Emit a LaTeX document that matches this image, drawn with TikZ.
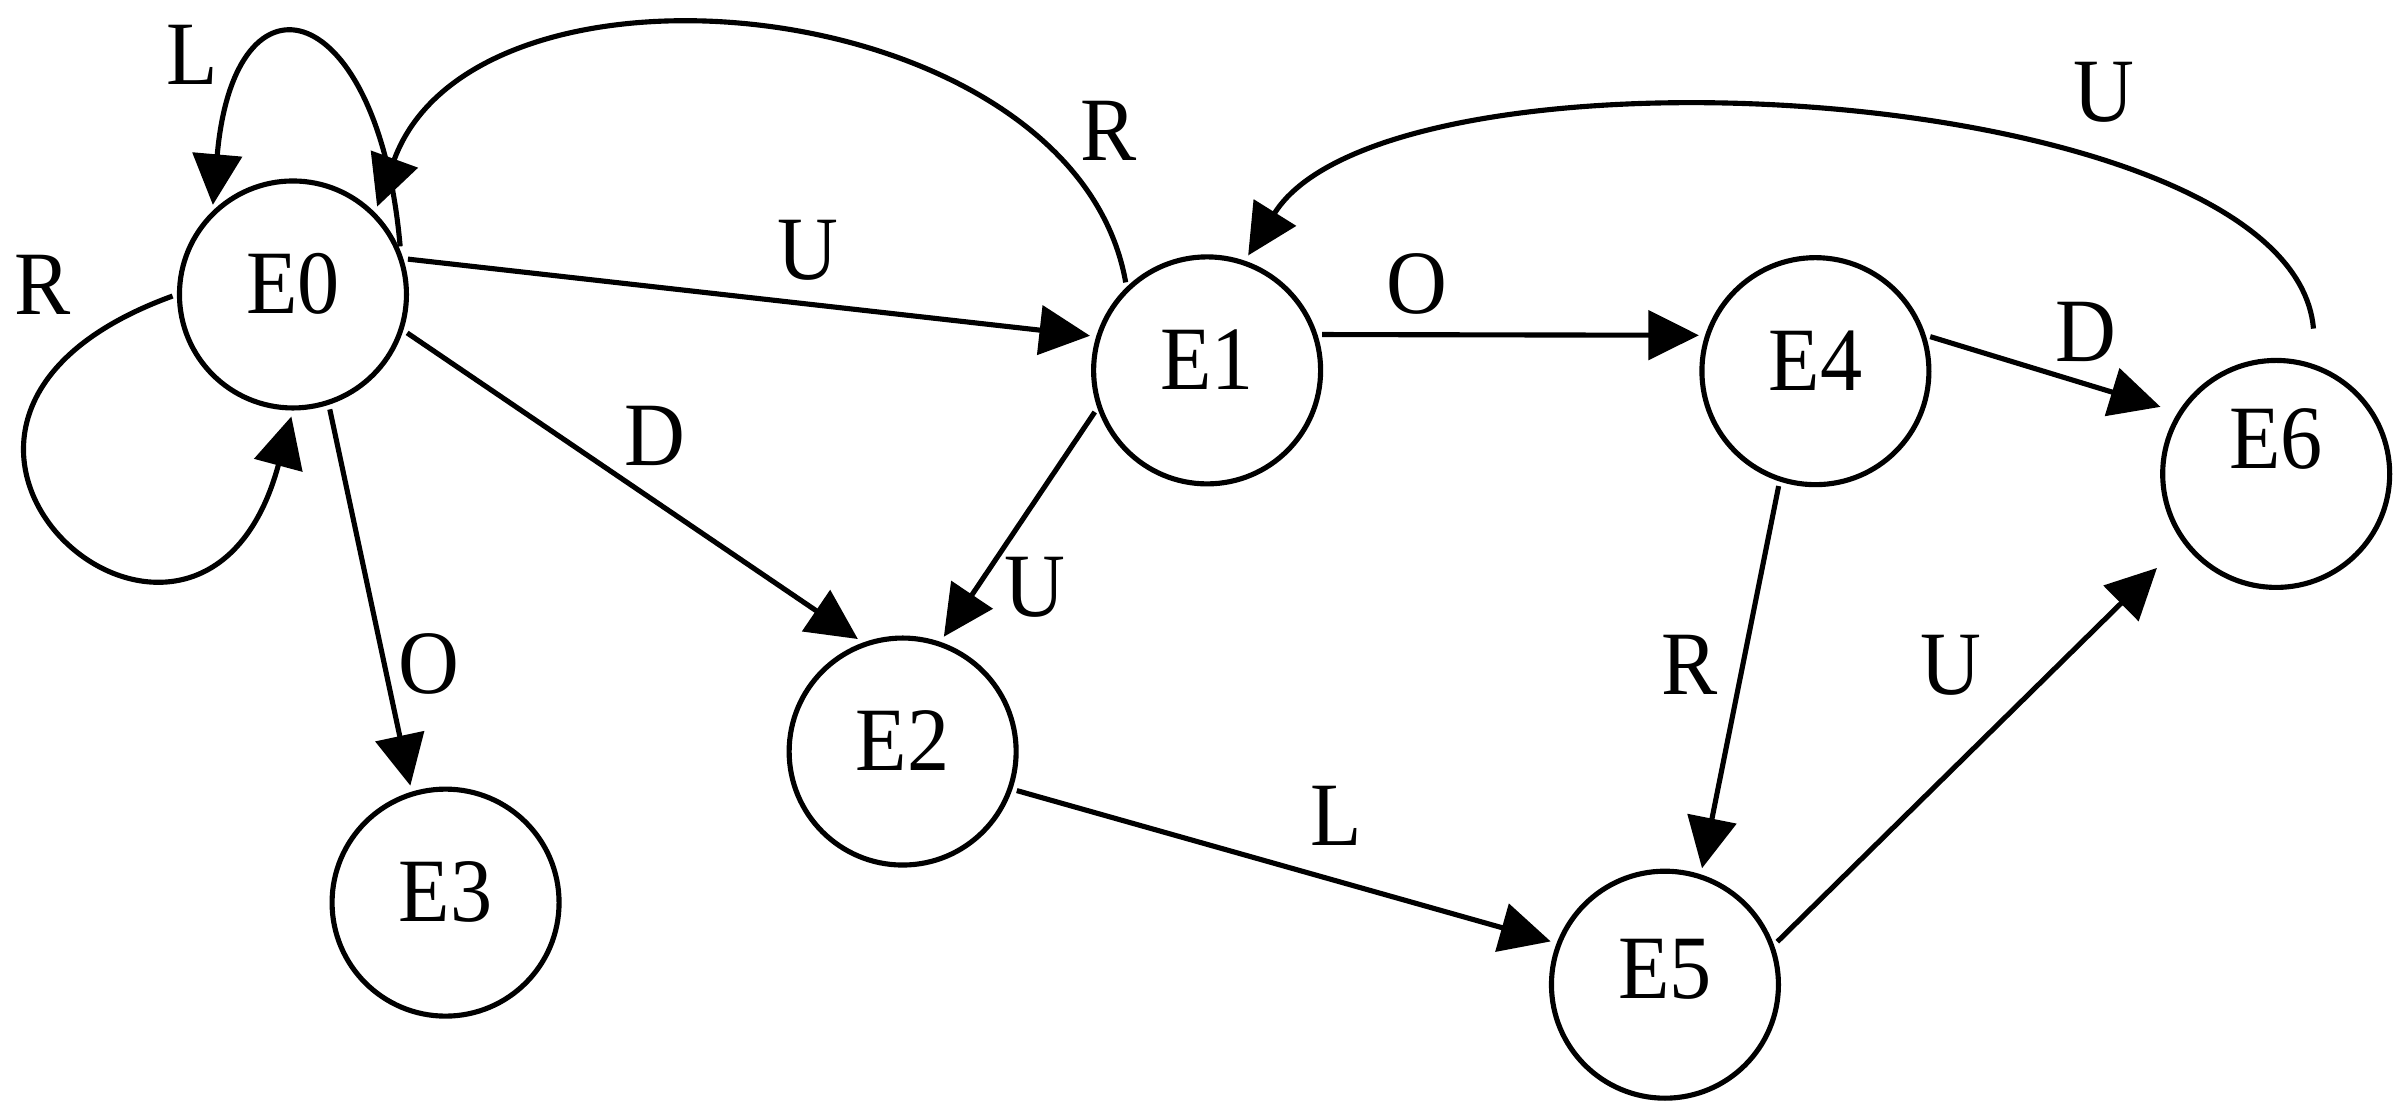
\documentclass[tikz,border=0pt]{standalone}
\usepackage{fontspec}
\setmainfont{Liberation Serif}[FakeStretch=0.93]
\usetikzlibrary{arrows.meta}

\begin{document}
\begin{tikzpicture}[
		every node/.style={font=\fontsize{16.8}{20}\selectfont},
		state/.style={draw, circle, line width=0.95pt, minimum size=1.48cm, inner sep=0pt, text depth=0.14cm},
		lbl/.style={inner sep=0pt},
		trans/.style={-{Triangle[length=0.33cm, width=0.32cm]}, line width=0.95pt, shorten >=0.04cm, shorten <=0.03cm}]
		\useasboundingbox (0,0) rectangle (15.68,-7.23);
		% states
		\node[state] (E0) at (1.91,-1.92) {E0};
		\node[state] (E1) at (7.87,-2.415) {E1};
		\node[state] (E2) at (5.885,-4.90) {E2};
		\node[state] (E3) at (2.905,-5.885) {E3};
		\node[state] (E4) at (11.836,-2.42) {E4};
		\node[state, text depth=0.21cm] (E5) at (10.855,-6.42) {E5};
		\node[state, text depth=0.46cm, outer sep=0.21cm] (E6) at (14.84,-3.09) {E6};
		% straight transitions
		\draw[trans] (E0.18) -- (E1.163);
		\draw[trans] (E0.-18) -- (E2.110);
		\draw[trans] (E0.-72) -- (E3.107);
		\draw[trans] (E1.199) -- (E2.71);
		\draw[trans] (E1.18) -- (E4.162);
		\draw[trans, shorten >=-0.08cm] (E4.18) -- (E6.151);
		\draw[trans] (E4.-108) -- (E5.72);
		\draw[trans] (E2.-19) -- (E5.159);
		\draw[trans] (E5.20) -- (E6.218);
		% loops and bends
		\draw[trans] (E0.22) .. controls +(95:1.66) and +(85:1.66) .. (E0.134);
		\draw[trans] (E0.180) .. controls +(200:2.5) and +(-105:2.35) .. (E0.-90);
		\draw[trans] (E1.134) .. controls +(100:1.95) and +(70:1.95) .. (E0.45);
		\draw[trans] (E6.75) .. controls +(95:1.66) and +(58:1.78) .. (E1.71);
		% labels
		\node[lbl] (lL00) at (1.255,-0.36) {L};
		\node[lbl] (lR00) at (0.275,-1.86) {R};
		\node[lbl] (lR10) at (7.23,-0.856) {R};
		\node[lbl] (lU01) at (5.27,-1.63) {U};
		\node[lbl] (lD02) at (4.27,-2.84) {D};
		\node[lbl] (lO03) at (2.795,-4.33) {O};
		\node[lbl] (lU12) at (6.746,-3.83) {U};
		\node[lbl] (lO14) at (9.24,-1.85) {O};
		\node[lbl] (lD46) at (13.60,-2.165) {D};
		\node[lbl] (lU61) at (13.715,-0.603) {U};
		\node[lbl] (lR45) at (11.017,-4.335) {R};
		\node[lbl] (lU56) at (12.72,-4.335) {U};
		\node[lbl] (lL25) at (8.71,-5.32) {L};
	\end{tikzpicture}
\end{document}
